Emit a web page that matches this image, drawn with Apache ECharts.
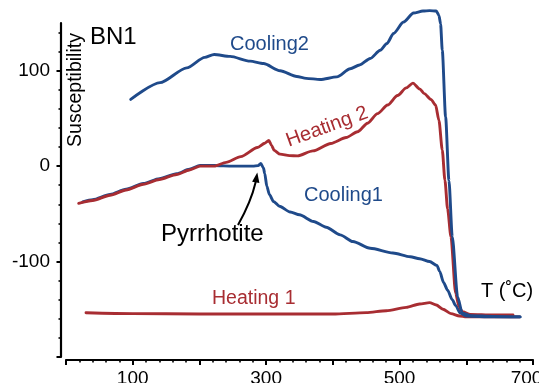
<!DOCTYPE html>
<html>
<head>
<meta charset="utf-8">
<script src="https://cdn.jsdelivr.net/npm/echarts@6/dist/echarts.min.js"></script>
<style>
  html, body { margin: 0; padding: 0; background: #fff; }
  #chart { width: 539px; height: 383px; }
</style>
</head>
<body>
<div id="chart"></div>
<script>
// Susceptibility vs temperature, sample BN1: two heating / cooling cycles.
// Each curve is a list of [temperature (°C), susceptibility] readings.
const heating1 = [
  [30, -153.6], [100, -154.5], [200, -155], [300, -155], [400, -155], [450, -153.5],
  [480, -151.5], [510, -148], [530, -144.5], [545, -143], [555, -145.5], [565, -150],
  [577, -154.5], [590, -157], [600, -158], [640, -158], [680, -158]
];
const cooling1 = [
  [680, -158], [640, -158], [600, -157], [591, -154], [584, -146], [579, -140],
  [572, -130], [566, -122], [560, -110], [556, -104], [545, -100], [530, -97],
  [516, -95], [490, -91], [456, -86], [430, -79], [411, -72], [390, -64], [371, -58],
  [350, -51], [336, -48], [320, -42], [311, -37], [305, -30], [301, -21], [298, -8],
  [296, -2], [292, 2.8], [288, 0.5], [280, 0], [250, 0], [222, 0.6], [201, 0.8],
  [185, -3.2], [166, -7.9], [140, -13.2], [116, -18.2], [90, -24.2], [66, -29.7],
  [40, -35.2], [25, -37.5]
];
const heating2 = [
  [19, -39], [40, -36], [66, -30.5], [90, -25], [116, -19], [140, -14], [166, -8.7],
  [185, -4], [201, 0], [222, 0], [240, 4], [262, 10], [287, 19.5], [298, 24], [304, 27],
  [308, 22], [312, 16.5], [321, 12.6], [335, 11], [347, 10.8], [370, 16], [397, 23.8],
  [420, 30], [437, 36], [452, 45], [467, 55], [482, 64], [497, 74], [510, 82], [520, 87],
  [530, 81], [537, 76], [547, 70], [554, 64], [559, 48], [564, 17], [568, -15],
  [572, -45], [577, -74], [584, -133], [589, -147], [594, -152.5], [606, -155.3],
  [640, -156], [670, -156]
];
const cooling2 = [
  [681, -158], [640, -157.5], [607, -156.7], [594, -154], [587, -137], [579, -74],
  [574, -15], [569, 51.6], [564, 121.5], [561.5, 149], [559, 158], [555, 162.5],
  [545, 163], [535, 162.5], [521, 160.5], [506, 151], [491, 139], [481, 128.5],
  [471, 121.5], [456, 112.8], [440, 106], [426, 102], [406, 93.5], [381, 90.8],
  [360, 92], [346, 94], [321, 100], [296, 107.5], [276, 110], [246, 115], [222, 117],
  [208, 114], [181, 103], [141, 87.5], [97, 70]
];

// Axis ticks
const xLabelValues = [100, 300, 500, 700];
const yMajorTicks = [-200, -100, 0, 100];
const yLabelValues = [-100, 0, 100];
const yMinorTicks = [-180, -160, -140, -120, -80, -60, -40, -20, 20, 40, 60, 80, 120, 140];

const RED = '#a82d32';
const BLUE = '#1f4a8a';
const FONT = '"Liberation Sans", Arial, Helvetica, sans-serif';

const chart = echarts.init(document.getElementById('chart'), null, { renderer: 'canvas' });

function lineSeries(name, data, color) {
  return {
    name, type: 'line', data, xAxisIndex: 0, yAxisIndex: 0,
    showSymbol: false, symbol: 'none', smooth: 0.25, smoothMonotone: 'x',
    clip: false,
    lineStyle: { color, width: 2.9, join: 'round', cap: 'round' },
    animation: false, silent: true
  };
}

const axisText = { color: '#000', fontSize: 19, fontFamily: FONT };

const yCommon = {
  type: 'value', min: -200, max: 150, position: 'left', offset: 5,
  splitLine: { show: false }
};

// last temperature label is nudged left so it stays on the canvas
function xLabel(v) {
  if (!xLabelValues.includes(v)) return '';
  return v === xLabelValues[xLabelValues.length - 1] ? '{edge|' + v + '}' : String(v);
}

const option = {
  animation: false,
  backgroundColor: '#fff',
  grid: { left: 66, right: 6, top: 23, bottom: 26, containLabel: false, outerBoundsMode: 'none' },
  xAxis: {
    type: 'value', min: 0, max: 700, interval: 100, offset: 3, position: 'bottom',
    axisLine: { show: true, onZero: false, lineStyle: { color: '#000', width: 2.2 } },
    axisTick: { show: true, length: 5, lineStyle: { color: '#000', width: 2 } },
    minorTick: { show: true, splitNumber: 5, length: 2.5, lineStyle: { color: '#000', width: 1.6 } },
    axisLabel: Object.assign({
      margin: 9,
      formatter: xLabel,
      rich: { edge: { fontSize: 19, fontFamily: FONT, color: '#000', padding: [0, 13, 0, 0] } }
    }, axisText),
    splitLine: { show: false }
  },
  yAxis: [
    Object.assign({}, yCommon, {
      axisLine: { show: true, onZero: false, lineStyle: { color: '#000', width: 2.2 } },
      axisTick: { show: true, length: 4.5, customValues: yMajorTicks, lineStyle: { color: '#000', width: 2 } },
      axisLabel: Object.assign({ margin: 11, customValues: yLabelValues }, axisText)
    }),
    Object.assign({}, yCommon, {
      axisLine: { show: false, onZero: false },
      axisTick: { show: true, length: 2.5, customValues: yMinorTicks, lineStyle: { color: '#000', width: 1.6 } },
      axisLabel: { show: false }
    })
  ],
  series: [
    lineSeries('Heating 1', heating1, RED),
    lineSeries('Cooling1', cooling1, BLUE),
    lineSeries('Heating 2', heating2, RED),
    lineSeries('Cooling2', cooling2, BLUE)
  ],
  graphic: [
    { type: 'text', x: 76, y: 90, rotation: Math.PI / 2,
      style: { text: 'Susceptibility', fill: '#000', font: '19.5px ' + FONT, align: 'center', verticalAlign: 'middle' } },
    { type: 'text', x: 90, y: 37,
      style: { text: 'BN1', fill: '#000', font: '24px ' + FONT, align: 'left', verticalAlign: 'middle' } },
    { type: 'text', x: 230, y: 44,
      style: { text: 'Cooling2', fill: BLUE, font: '20px ' + FONT, align: 'left', verticalAlign: 'middle' } },
    { type: 'text', x: 304, y: 195,
      style: { text: 'Cooling1', fill: BLUE, font: '20px ' + FONT, align: 'left', verticalAlign: 'middle' } },
    { type: 'text', x: 212, y: 299,
      style: { text: 'Heating 1', fill: RED, font: '19.5px ' + FONT, align: 'left', verticalAlign: 'middle' } },
    { type: 'text', x: 327, y: 127, rotation: 20 * Math.PI / 180,
      style: { text: 'Heating 2', fill: RED, font: '20px ' + FONT, align: 'center', verticalAlign: 'middle' } },
    { type: 'text', x: 161, y: 234,
      style: { text: 'Pyrrhotite', fill: '#000', font: '24px ' + FONT, align: 'left', verticalAlign: 'middle' } },
    { type: 'text', x: 481, y: 291,
      style: { text: 'T (˚C)', fill: '#000', font: '20px ' + FONT, align: 'left', verticalAlign: 'middle' } },
    // curved pointer to the pyrrhotite bump on Cooling1
    { type: 'bezierCurve',
      shape: { x1: 238, y1: 225, x2: 255.7, y2: 182, cpx1: 251, cpy1: 202 },
      style: { stroke: '#000', lineWidth: 2, fill: null } },
    { type: 'polygon',
      shape: { points: [[257.3, 172.5], [259.4, 183], [252.1, 181.7]] },
      style: { fill: '#000' } }
  ]
};

chart.setOption(option);
</script>
</body>
</html>
